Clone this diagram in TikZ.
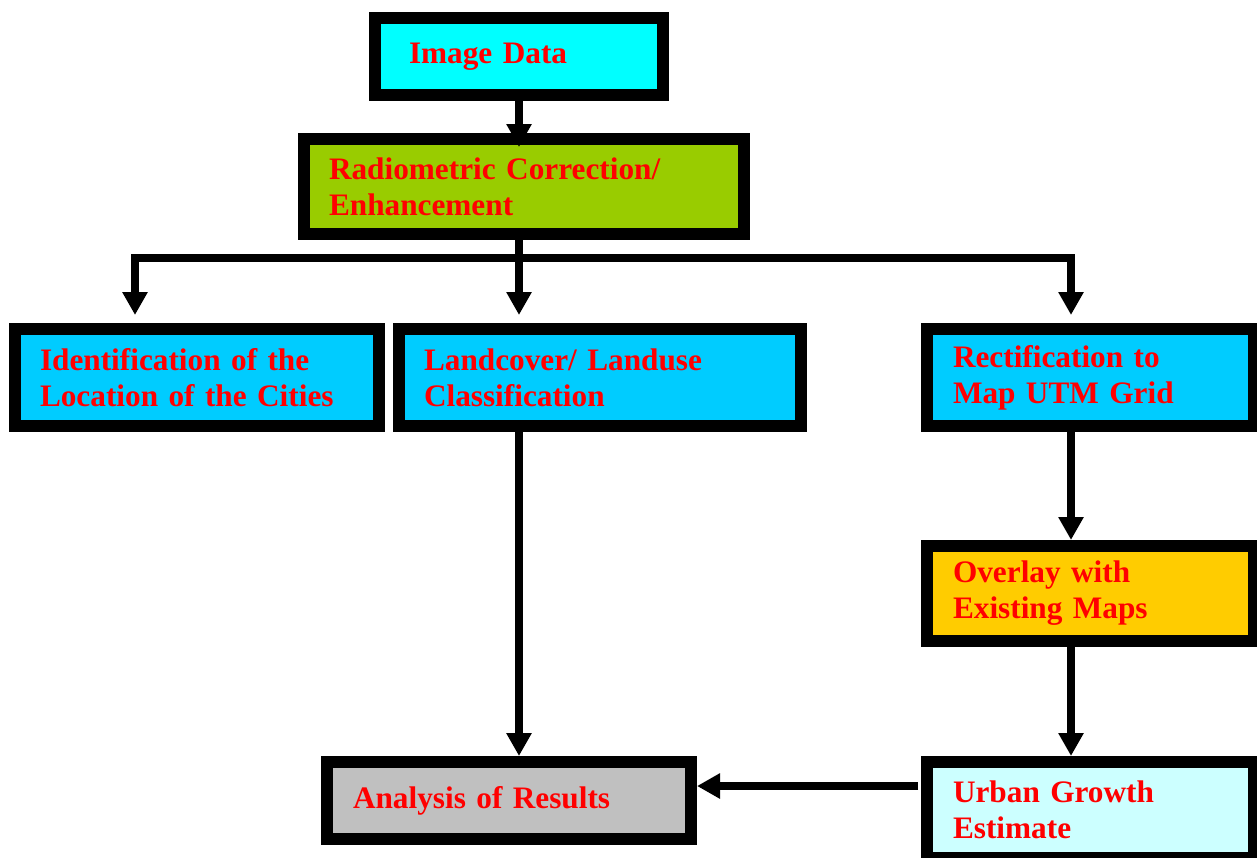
\documentclass[tikz,border=0pt]{standalone}
\usepackage{fontspec}
\setmainfont{Liberation Serif}
\usepackage{xcolor}
\usetikzlibrary{arrows.meta}

\definecolor{cyanfill}{HTML}{00FFFF}
\definecolor{greenfill}{HTML}{99CC00}
\definecolor{bluefill}{HTML}{00CCFF}
\definecolor{orangefill}{HTML}{FFCC00}
\definecolor{grayfill}{HTML}{C0C0C0}
\definecolor{palefill}{HTML}{CCFFFF}

\newlength\pxu
\setlength\pxu{0.02cm}

\begin{document}
\begin{tikzpicture}[x=0.02cm, y=-0.02cm,
  box/.style={draw=black, line width=0.24cm, align=left, inner sep=0pt, text=red,
    font=\fontsize{17.8}{20.5}\selectfont\bfseries},
  link/.style={line width=0.16cm, line cap=rect},
  arr/.style={line width=0.16cm, -{Triangle[width=0.48cm, length=0.46cm]}}]
\useasboundingbox (0,0) rectangle (1257,858);
% boxes
\node[box, fill=cyanfill, minimum width=288*\pxu, minimum height=77*\pxu, text width=220*\pxu] (img) at (519,56.5) {Image Data};
\node[box, fill=greenfill, minimum width=440*\pxu, minimum height=95*\pxu, text width=390*\pxu] (radio) at (524,186.5) {Radiometric Correction/\\Enhancement};
\node[box, fill=bluefill, minimum width=364*\pxu, minimum height=97*\pxu, text width=314*\pxu] (ident) at (197,377.5) {Identification of the\\Location of the Cities};
\node[box, fill=bluefill, minimum width=402*\pxu, minimum height=97*\pxu, text width=352*\pxu] (land) at (600,377.5) {Landcover/ Landuse\\Classification};
\node[box, fill=bluefill, minimum width=327*\pxu, minimum height=97*\pxu, text width=275*\pxu] (rect) at (1090.5,377.5) {Rectification to\\Map UTM Grid};
\node[box, fill=orangefill, minimum width=327*\pxu, minimum height=95*\pxu, text width=275*\pxu] (overlay) at (1090.5,593.5) {Overlay with\\Existing Maps};
\node[box, fill=grayfill, minimum width=364*\pxu, minimum height=77*\pxu, text width=312*\pxu] (analysis) at (509,800.5) {Analysis of Results};
\node[box, fill=palefill, minimum width=327*\pxu, minimum height=96*\pxu, text width=275*\pxu] (urban) at (1090.5,810) {Urban Growth\\Estimate};
% branch bar
\coordinate (barL) at (135,258);
\coordinate (barM) at (519,258);
\coordinate (barR) at (1071,258);
\coordinate (ret) at (918,786);
% connectors
\draw[arr] (barM |- img.south) -- ([yshift=-0.28cm]barM |- radio.north);
\draw[link] (barM |- radio.south) -- (barM);
\draw[link] (barL) -- (barR);
\draw[arr, shorten >=0.16cm] (barL) -- (barL |- ident.north);
\draw[arr, shorten >=0.16cm] (barM) -- (barM |- land.north);
\draw[arr, shorten >=0.16cm] (barR) -- (barR |- rect.north);
\draw[arr] (barR |- rect.south) -- (barR |- overlay.north);
\draw[arr] (barR |- overlay.south) -- (barR |- urban.north);
\draw[arr] (barM |- land.south) -- (barM |- analysis.north);
\draw[arr] (ret) -- (ret -| analysis.east);
\end{tikzpicture}
\end{document}
